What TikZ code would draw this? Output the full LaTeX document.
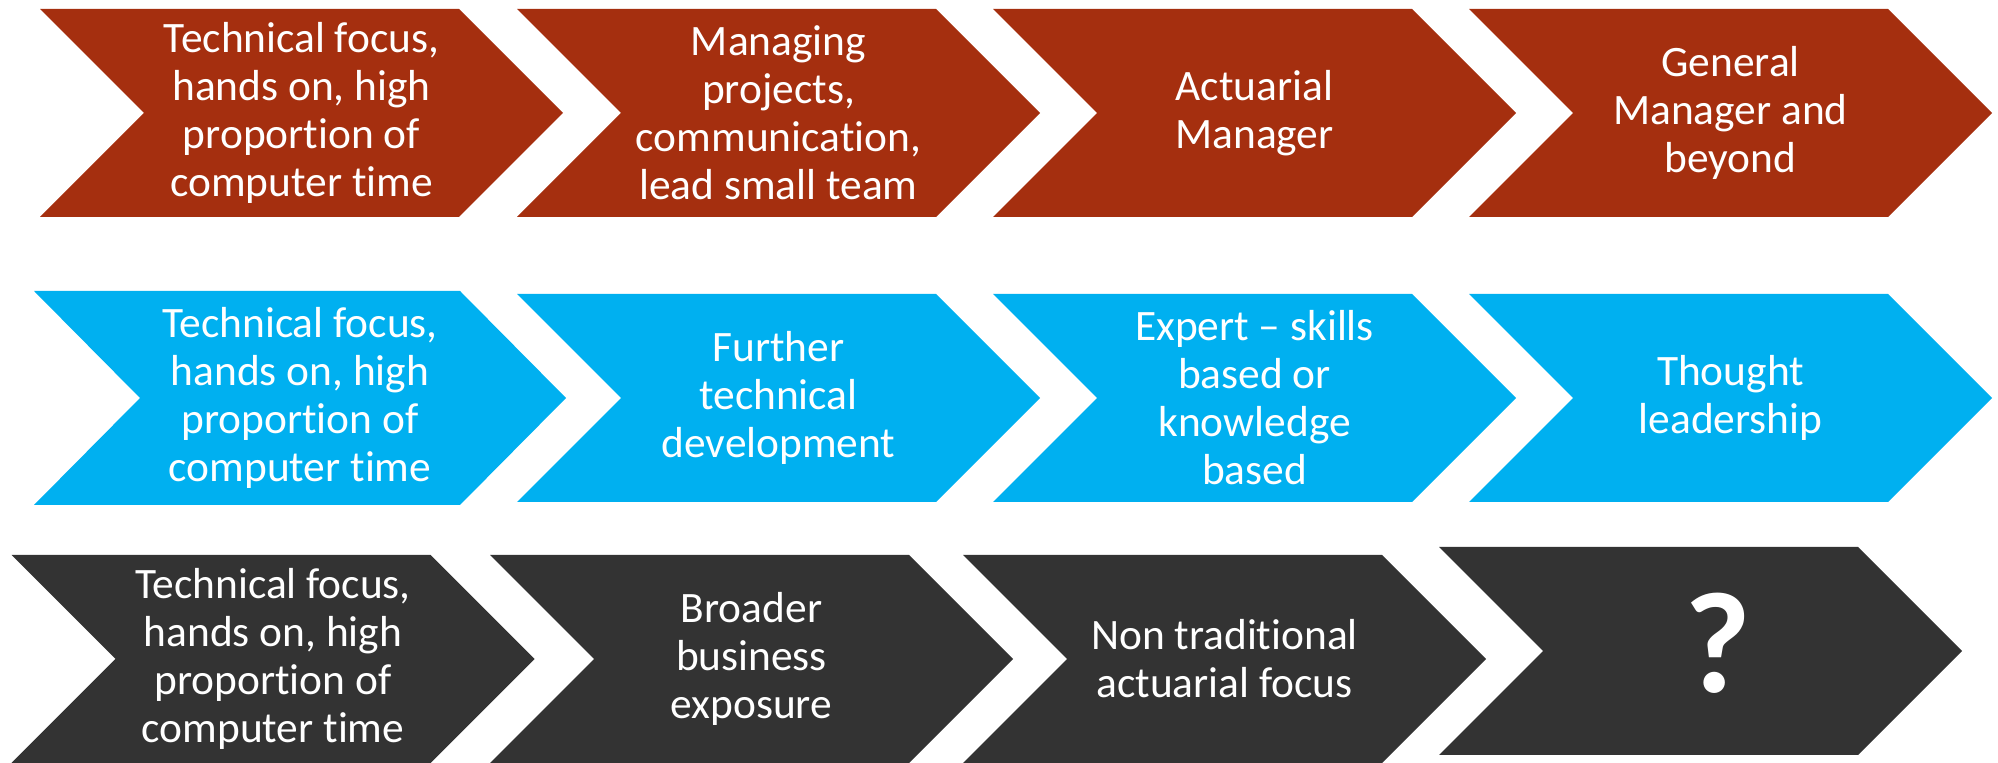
\documentclass[tikz,border=0pt]{standalone}
\usepackage{fontspec}
\setmainfont{Carlito}[Ligatures=NoCommon]
\definecolor{rust}{HTML}{A52F0F}
\definecolor{sky}{HTML}{00B0F0}
\definecolor{slate}{HTML}{333333}
\tikzset{
  steptext/.style={text=white, align=center, inner sep=0pt, font=\fontsize{21.7}{24}\selectfont},
}
% one chevron: left x, top y, colour
\newcommand{\chevshape}[3]{\fill[#3] (#1,#2) -- ++(419,0) -- ++(104,104) -- ++(-104,104) -- ++(-419,0) -- ++(104,-104) -- cycle;}
\begin{document}
\begin{tikzpicture}[x=0.5pt, y=-0.5pt]
	\useasboundingbox (0,0) rectangle (1998,763);
	% management track
	\foreach \x in {40,517,993,1469}{\chevshape{\x}{9}{rust}}
	\node[steptext] (m1) at (301.5,113) {Technical focus,\\hands on, high\\proportion of\\computer time};
	\node[steptext] (m2) at (778.5,113) {Managing\\projects,\\communication,\\lead small team};
	\node[steptext] (m3) at (1254.5,113) {Actuarial\\Manager};
	\node[steptext] (m4) at (1730.5,113) {General\\Manager and\\beyond};
	% technical track
	\fill[sky] (34,291) -- (460,291) -- (566,398) -- (460,505) -- (34,505) -- (140,398) -- cycle;
	\foreach \x in {517,993,1469}{\chevshape{\x}{294}{sky}}
	\node[steptext] (t1) at (300,398) {Technical focus,\\hands on, high\\proportion of\\computer time};
	\node[steptext] (t2) at (778.5,398) {Further\\technical\\development};
	\node[steptext] (t3) at (1254.5,398) {Expert -- skills\\based or\\knowledge\\based};
	\node[steptext] (t4) at (1730.5,398) {Thought\\leadership};
	% other track
	\foreach \x in {11.5,490,963}{\chevshape{\x}{555}{slate}}
	\chevshape{1439}{547}{slate}
	\node[steptext] (o1) at (273,659) {Technical focus,\\hands on, high\\proportion of\\computer time};
	\node[steptext] (o2) at (751.5,659) {Broader\\business\\exposure};
	\node[steptext] (o3) at (1224.5,659) {Non traditional\\actuarial focus};
	\node[text=white, font=\fontsize{72}{72}\selectfont\bfseries] (o4) at (1718,643) {?};
\end{tikzpicture}
\end{document}
